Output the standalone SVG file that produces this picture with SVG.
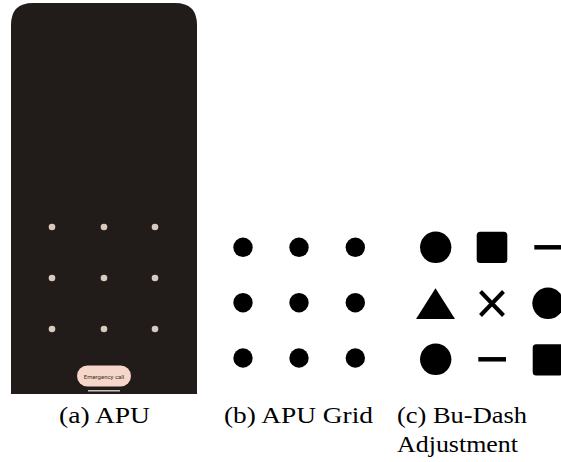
<svg xmlns="http://www.w3.org/2000/svg" width="561" height="462" viewBox="0 0 561 462">
<style>
.pd{fill:#d8c9c1}
.bk{fill:#000}
.dash{stroke:#000;stroke-width:4.5;stroke-linecap:butt}
.cap{font-family:"Liberation Serif","Times New Roman",serif;font-size:23px;fill:#000}
</style>
<rect width="561" height="462" fill="#fff"/>
<g id="phone">
<path d="M11,394 V25 Q11,3 33,3 H175 Q197,3 197,25 V394 Z" fill="#211c19"/>
<circle class="pd" cx="52" cy="227" r="3.3"/>
<circle class="pd" cx="104" cy="227" r="3.3"/>
<circle class="pd" cx="155" cy="227" r="3.3"/>
<circle class="pd" cx="52" cy="278" r="3.3"/>
<circle class="pd" cx="104" cy="278" r="3.3"/>
<circle class="pd" cx="155" cy="278" r="3.3"/>
<circle class="pd" cx="52" cy="329" r="3.3"/>
<circle class="pd" cx="104" cy="329" r="3.3"/>
<circle class="pd" cx="155" cy="329" r="3.3"/>
<rect x="77" y="365.5" width="54" height="21" rx="10.5" fill="#f6d6c9"/>
<text x="104" y="378.5" text-anchor="middle" font-family="Roboto,'Liberation Sans',sans-serif" font-size="6" fill="#3a2f2b">Emergency call</text>
<rect x="88" y="390" width="32" height="1.5" fill="#c9c4c2"/>
</g>
<g id="grid">
<circle class="bk" cx="243" cy="247.3" r="9.7"/>
<circle class="bk" cx="299" cy="247.3" r="9.7"/>
<circle class="bk" cx="355.3" cy="247.3" r="9.7"/>
<circle class="bk" cx="243" cy="302.7" r="9.7"/>
<circle class="bk" cx="299" cy="302.7" r="9.7"/>
<circle class="bk" cx="355.3" cy="302.7" r="9.7"/>
<circle class="bk" cx="243" cy="358" r="9.7"/>
<circle class="bk" cx="299" cy="358" r="9.7"/>
<circle class="bk" cx="355.3" cy="358" r="9.7"/>
</g>
<g id="budash">
<circle class="bk" cx="435.7" cy="247.3" r="15.7"/>
<rect class="bk" x="476.7" y="231.8" width="30.6" height="31.2" rx="3.5"/>
<line class="dash" x1="534.3" y1="247.3" x2="562" y2="247.3"/>
<polygon class="bk" points="435.5,288.3 455,319 416,319"/>
<path d="M480.5,291.5 L503.5,315.5 M503.5,291.5 L480.5,315.5" stroke="#000" stroke-width="4" fill="none"/>
<circle class="bk" cx="548" cy="303.3" r="15.7"/>
<circle class="bk" cx="435.7" cy="359.3" r="15.7"/>
<line class="dash" x1="478.3" y1="359.3" x2="506" y2="359.3"/>
<rect class="bk" x="532.7" y="344.2" width="30.6" height="31.2" rx="3.5"/>
</g>
<g id="captions">
<text class="cap" x="59" y="423.3" textLength="91" lengthAdjust="spacingAndGlyphs">(a) APU</text>
<text class="cap" x="224" y="423.3" textLength="149" lengthAdjust="spacingAndGlyphs">(b) APU Grid</text>
<text class="cap" x="397" y="423.3" textLength="130" lengthAdjust="spacingAndGlyphs">(c) Bu-Dash</text>
<text class="cap" x="397" y="451.5" textLength="121" lengthAdjust="spacingAndGlyphs">Adjustment</text>
</g>
</svg>
